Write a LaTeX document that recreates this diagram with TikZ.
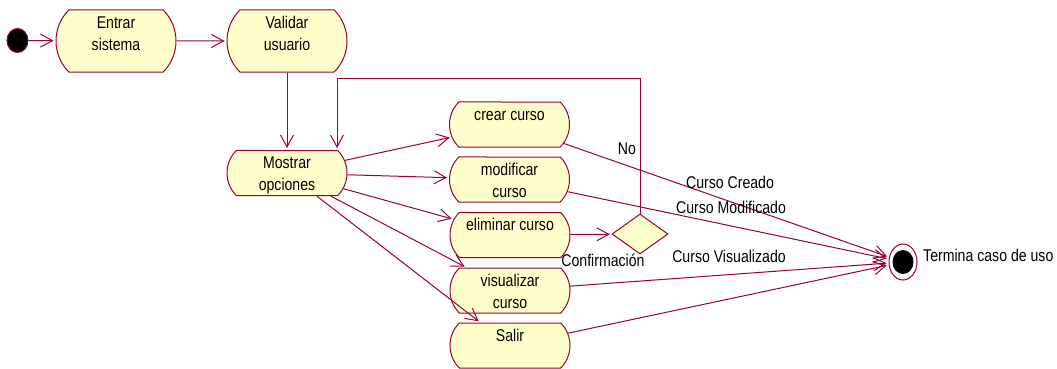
\documentclass[tikz,border=0pt]{standalone}
\usepackage{fontspec}
\setmainfont{Liberation Sans}[FakeStretch=0.83]
\usetikzlibrary{shapes.misc,shapes.geometric,arrows.meta}
\definecolor{wire}{HTML}{990033}
\definecolor{actfill}{HTML}{FFFFCC}
\begin{document}
\begin{tikzpicture}[x=1pt,y=-1pt,
  font=\fontsize{17}{22}\selectfont,
  act/.style={rounded rectangle, rounded rectangle arc length=90,
    draw=wire, fill=actfill, line width=1pt,
    minimum width=120pt, minimum height=45pt, inner sep=0pt},
  acttext/.style={anchor=north, inner sep=0pt, align=center, label distance=-3pt},
  flow/.style={draw=wire, line width=1pt, shorten >=2pt,
    -{Straight Barb[length=12pt,width=13pt,line width=1pt]}},
  decision/.style={diamond, draw=wire, fill=actfill, line width=1pt,
    minimum width=56pt, minimum height=40pt, inner sep=0pt},
  startstate/.style={ellipse, draw=wire, fill=black, line width=1pt,
    minimum width=21pt, minimum height=24pt, inner sep=0pt},
  endring/.style={ellipse, draw=wire, fill=white, line width=1pt,
    minimum width=28pt, minimum height=36pt, inner sep=0pt},
  enddot/.style={ellipse, fill=black, minimum width=21pt, minimum height=24pt, inner sep=0pt},
  lbl/.style={inner sep=0pt}
]
\useasboundingbox (0,0) rectangle (1057,369);

% states
\node[startstate] (ini) at (17.5,40.5) {};
\node[act, minimum height=62pt, label={[acttext]north:{\strut Entrar\\sistema}}] (entrar) at (116,41) {};
\node[act, minimum height=62pt, label={[acttext]north:{\strut Validar\\usuario}}] (validar) at (287,41) {};
\node[act, label={[acttext]north:{\strut Mostrar\\opciones}}] (mostrar) at (287,173) {};
\node[act, label={[acttext]north:{\strut crear curso}}] (crear) at (509.5,124.5) {};
\node[act, label={[acttext]north:{\strut modificar\\curso}}] (modificar) at (509.5,179.5) {};
\node[act, label={[acttext]north:{\strut eliminar curso}}] (eliminar) at (510,235) {};
\node[act, label={[acttext]north:{\strut visualizar\\curso}}] (visualizar) at (510,290.5) {};
\node[act, label={[acttext]north:{\strut Salir}}] (salir) at (510,345.5) {};
\node[decision] (dec) at (640,234) {};
\node[endring] (fin) at (903,262) {};
\node[enddot] (findot) at (fin) {};

% transitions
\draw[flow] (ini) -- (entrar);
\draw[flow] (entrar) -- (validar);
\draw[flow] (validar) -- (mostrar);
\draw[flow] (mostrar) -- (crear);
\draw[flow] (mostrar) -- (modificar);
\draw[flow] (mostrar) -- (eliminar);
\draw[flow] (mostrar) -- (visualizar);
\draw[flow] (mostrar) -- (salir);
\draw[flow] (eliminar) -- (dec);
\draw[flow] (crear) -- (fin);
\draw[flow] (modificar) -- (fin);
\draw[flow] (visualizar) -- (fin);
\draw[flow] (salir) -- (fin);

% "No" branch back to the options menu
\coordinate (loopR) at (dec.north |- 0,78);
\coordinate (loopL) at (337,78);
\draw[flow] (dec.north) -- (loopR) -- (loopL) -- (loopL |- mostrar.north);

% guard and transition texts
\node[lbl] (tno) at (627,149) {No};
\node[lbl] (tconf) at (603,260) {Confirmación};
\node[lbl] (tcreado) at (730,182) {Curso Creado};
\node[lbl] (tmod) at (731,207) {Curso Modificado};
\node[lbl] (tvis) at (729,256) {Curso Visualizado};
\node[lbl, anchor=west] (tfin) at (923,255) {Termina caso de uso};
\end{tikzpicture}
\end{document}
